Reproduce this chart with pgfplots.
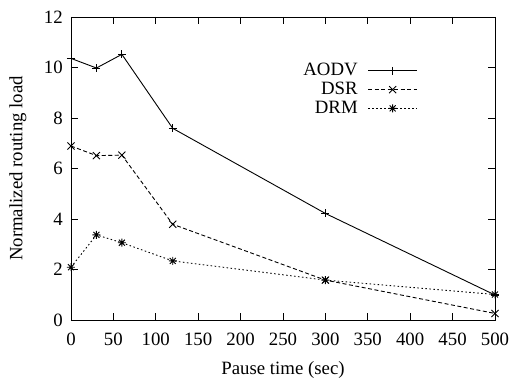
\documentclass[border=0pt]{standalone}
\usepackage{fontspec}
\setmainfont{Liberation Serif}
\usepackage{pgfplots}
\pgfplotsset{compat=1.18}
\pgfdeclareplotmark{gpstar}{%
  \pgfpathmoveto{\pgfqpoint{-\pgfplotmarksize}{0pt}}%
  \pgfpathlineto{\pgfqpoint{\pgfplotmarksize}{0pt}}%
  \pgfpathmoveto{\pgfqpoint{0pt}{-\pgfplotmarksize}}%
  \pgfpathlineto{\pgfqpoint{0pt}{\pgfplotmarksize}}%
  \pgfpathmoveto{\pgfqpoint{-0.75\pgfplotmarksize}{-0.75\pgfplotmarksize}}%
  \pgfpathlineto{\pgfqpoint{0.75\pgfplotmarksize}{0.75\pgfplotmarksize}}%
  \pgfpathmoveto{\pgfqpoint{-0.75\pgfplotmarksize}{0.75\pgfplotmarksize}}%
  \pgfpathlineto{\pgfqpoint{0.75\pgfplotmarksize}{-0.75\pgfplotmarksize}}%
  \pgfusepathqstroke}
\begin{document}
\fontsize{18.8bp}{21bp}\selectfont
\begin{tikzpicture}[font=\fontsize{18.8bp}{21bp}\selectfont]
\begin{axis}[
  scale only axis,
  width=424bp, height=303bp,
  xmin=0, xmax=500, ymin=0, ymax=12,
  xtick={0,50,...,500}, ytick={0,2,...,12},
  tick align=inside, major tick length=7bp,
  axis line style={line width=0.9bp},
  every tick/.style={black, line width=0.9bp},
  /pgf/number format/assume math mode=true,
  xticklabel style={anchor=north, inner sep=0pt},
  yticklabel style={anchor=east, inner sep=0pt},
  xticklabel shift=13bp,
  yticklabel shift=8bp,
  xlabel={Pause time (sec)},
  ylabel={Normalized routing load},
  xlabel style={at={(axis description cs:0.5,-0.165)}, anchor=center},
  ylabel style={at={(axis description cs:-0.125,0.5)}, anchor=center, rotate=0},
  clip=false,
  legend plot pos=right,
  legend cell align=right,
  legend style={draw=none, fill=none, inner sep=0pt, row sep=3.5bp, column sep=10bp,
    nodes={inner sep=0pt},
    at={(0.818,0.848)}, anchor=north east},
  legend image code/.code={
    \draw[#1, mark=none] (0bp,0bp) -- (49bp,0bp);
    \path[#1, only marks] plot coordinates {(24.5bp,0bp)};
  },
  every axis plot/.append style={line width=0.9bp, mark size=4bp, mark options={solid}},
]
\addplot[black, mark=+] coordinates {(0,10.36) (30,9.98) (60,10.52) (120,7.59) (300,4.22) (500,0.99)};
\addlegendentry{AODV}
\addplot[black, mark=x, mark size=5bp, dash pattern=on 4bp off 2.5bp] coordinates {(0,6.89) (30,6.51) (60,6.53) (120,3.79) (300,1.58) (500,0.26)};
\addlegendentry{DSR}
\addplot[black, mark=gpstar, dash pattern=on 1.5bp off 2.5bp] coordinates {(0,2.09) (30,3.37) (60,3.06) (120,2.34) (300,1.58) (500,1.01)};
\addlegendentry{DRM}
\end{axis}
\pgfresetboundingbox
\path[use as bounding box] (-71bp,-64bp) rectangle (439bp,320bp);
\end{tikzpicture}
\end{document}
